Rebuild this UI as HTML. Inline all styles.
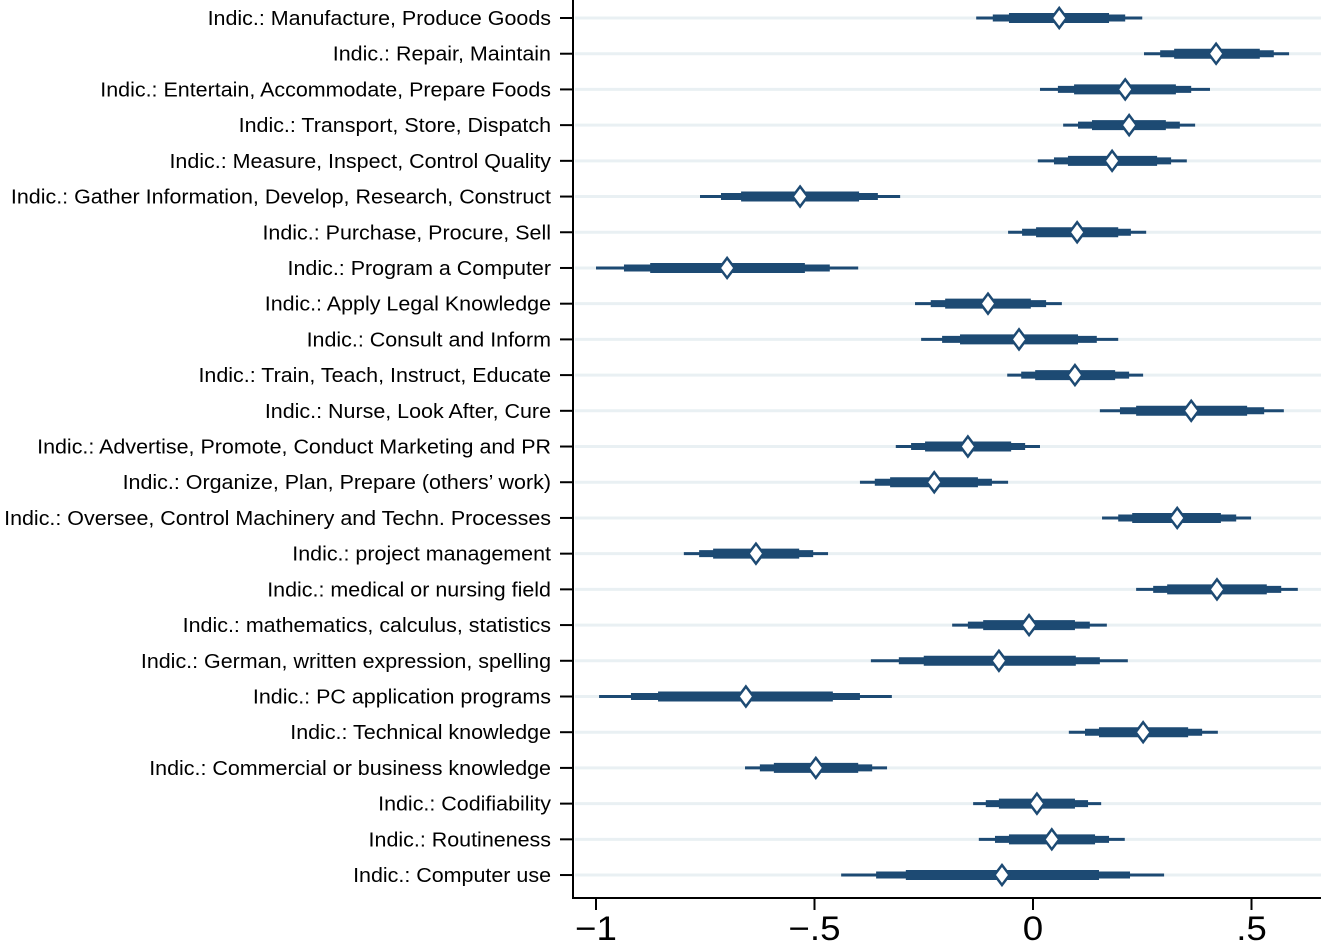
<!DOCTYPE html>
<html><head><meta charset="utf-8"><style>
html,body{margin:0;padding:0;background:#fff;}
svg{display:block;font-family:"Liberation Sans",Arial,sans-serif;}
</style></head><body>
<svg id="chart" width="1321" height="947" viewBox="0 0 1321 947" xmlns="http://www.w3.org/2000/svg"></svg>
<script>
const categories=["Indic.: Manufacture, Produce Goods","Indic.: Repair, Maintain","Indic.: Entertain, Accommodate, Prepare Foods","Indic.: Transport, Store, Dispatch","Indic.: Measure, Inspect, Control Quality","Indic.: Gather Information, Develop, Research, Construct","Indic.: Purchase, Procure, Sell","Indic.: Program a Computer","Indic.: Apply Legal Knowledge","Indic.: Consult and Inform","Indic.: Train, Teach, Instruct, Educate","Indic.: Nurse, Look After, Cure","Indic.: Advertise, Promote, Conduct Marketing and PR","Indic.: Organize, Plan, Prepare (others\u2019 work)","Indic.: Oversee, Control Machinery and Techn. Processes","Indic.: project management","Indic.: medical or nursing field","Indic.: mathematics, calculus, statistics","Indic.: German, written expression, spelling","Indic.: PC application programs","Indic.: Technical knowledge","Indic.: Commercial or business knowledge","Indic.: Codifiability","Indic.: Routineness","Indic.: Computer use"];
const estimates=[.060,.419,.211,.220,.181,-.533,.101,-.700,-.103,-.032,.096,.362,-.149,-.226,.330,-.634,.421,-.009,-.078,-.657,.252,-.497,.009,.043,-.071];
const ci99Lo=[-.130,.254,.016,.069,.011,-.762,-.057,-1.0,-.270,-.256,-.059,.153,-.314,-.396,.158,-.799,.236,-.185,-.371,-.993,.082,-.659,-.137,-.124,-.439];
const ci99Hi=[.250,.586,.405,.371,.352,-.304,.259,-.400,.066,.195,.252,.574,.016,-.057,.499,-.469,.606,.169,.217,-.323,.423,-.334,.156,.210,.300];
const ci95Lo=[-.092,.291,.057,.103,.048,-.714,-.025,-.936,-.234,-.208,-.027,.199,-.279,-.362,.195,-.764,.275,-.149,-.307,-.920,.119,-.625,-.108,-.087,-.359];
const ci95Hi=[.211,.551,.362,.336,.316,-.355,.224,-.465,.030,.146,.220,.529,-.018,-.094,.465,-.503,.568,.130,.153,-.396,.387,-.368,.126,.174,.222];
const ci90Lo=[-.055,.323,.094,.135,.080,-.668,.007,-.876,-.201,-.167,.005,.236,-.247,-.327,.227,-.732,.307,-.114,-.250,-.858,.151,-.593,-.078,-.055,-.291];
const ci90Hi=[.174,.519,.327,.304,.284,-.398,.195,-.522,-.005,.103,.188,.490,-.050,-.126,.430,-.535,.535,.096,.098,-.458,.355,-.400,.096,.142,.151];
const xTicks=[-1,-0.5,0,0.5];
const xTickLabels=["\u22121","\u2212.5","0",".5"];

const svg=document.getElementById('chart');
const NS='http://www.w3.org/2000/svg';
const x=v=>1033+v*437;
const y=i=>18+i*35.71;
const plotL=573, axisY=898, C='#1d4a73';
function mk(tag,attrs,parent){const e=document.createElementNS(NS,tag);for(const k in attrs)e.setAttribute(k,attrs[k]);(parent||svg).appendChild(e);return e;}

categories.forEach((c,i)=>{
  const g=mk('line',{x1:plotL+2,x2:1321,y1:y(i),y2:y(i),stroke:'#e9f0f3','stroke-width':3});
  
  
  const t=mk('line',{x1:560,x2:plotL,y1:y(i),y2:y(i),stroke:'#000','stroke-width':2});
  
  
  const lb=mk('text',{x:0,y:0,transform:`translate(551,${y(i)+7}) scale(1.073,1)`,'text-anchor':'end','font-size':20,fill:'#000'});
  lb.textContent=c;
  
  
});
categories.forEach((c,i)=>{
  const a=mk('line',{x1:x(ci99Lo[i]),x2:x(ci99Hi[i]),y1:y(i),y2:y(i),stroke:C,'stroke-width':3});
  
  
  const b=mk('line',{x1:x(ci95Lo[i]),x2:x(ci95Hi[i]),y1:y(i),y2:y(i),stroke:C,'stroke-width':7});
  
  
  const d=mk('line',{x1:x(ci90Lo[i]),x2:x(ci90Hi[i]),y1:y(i),y2:y(i),stroke:C,'stroke-width':10});
  
  
  const px=x(estimates[i]),py=y(i);
  const p=mk('polygon',{points:`${px},${py-10} ${px+7.5},${py} ${px},${py+10} ${px-7.5},${py}`,fill:'#fff',stroke:C,'stroke-width':2.5});
  
  
});
const ya=mk('line',{x1:plotL,x2:plotL,y1:0,y2:axisY+1,stroke:'#000','stroke-width':2});


const xa=mk('line',{x1:plotL-1,x2:1321,y1:axisY,y2:axisY,stroke:'#000','stroke-width':2});


xTicks.forEach((v,i)=>{
  const t=mk('line',{x1:x(v),x2:x(v),y1:axisY,y2:axisY+12,stroke:'#000','stroke-width':2});
  
  
  const l=mk('text',{x:0,y:0,transform:`translate(${x(v)},940) scale(1.08,1)`,'text-anchor':'middle','font-size':34,fill:'#000'});
  l.textContent=xTickLabels[i];
  
  
});
</script>
</body></html>
